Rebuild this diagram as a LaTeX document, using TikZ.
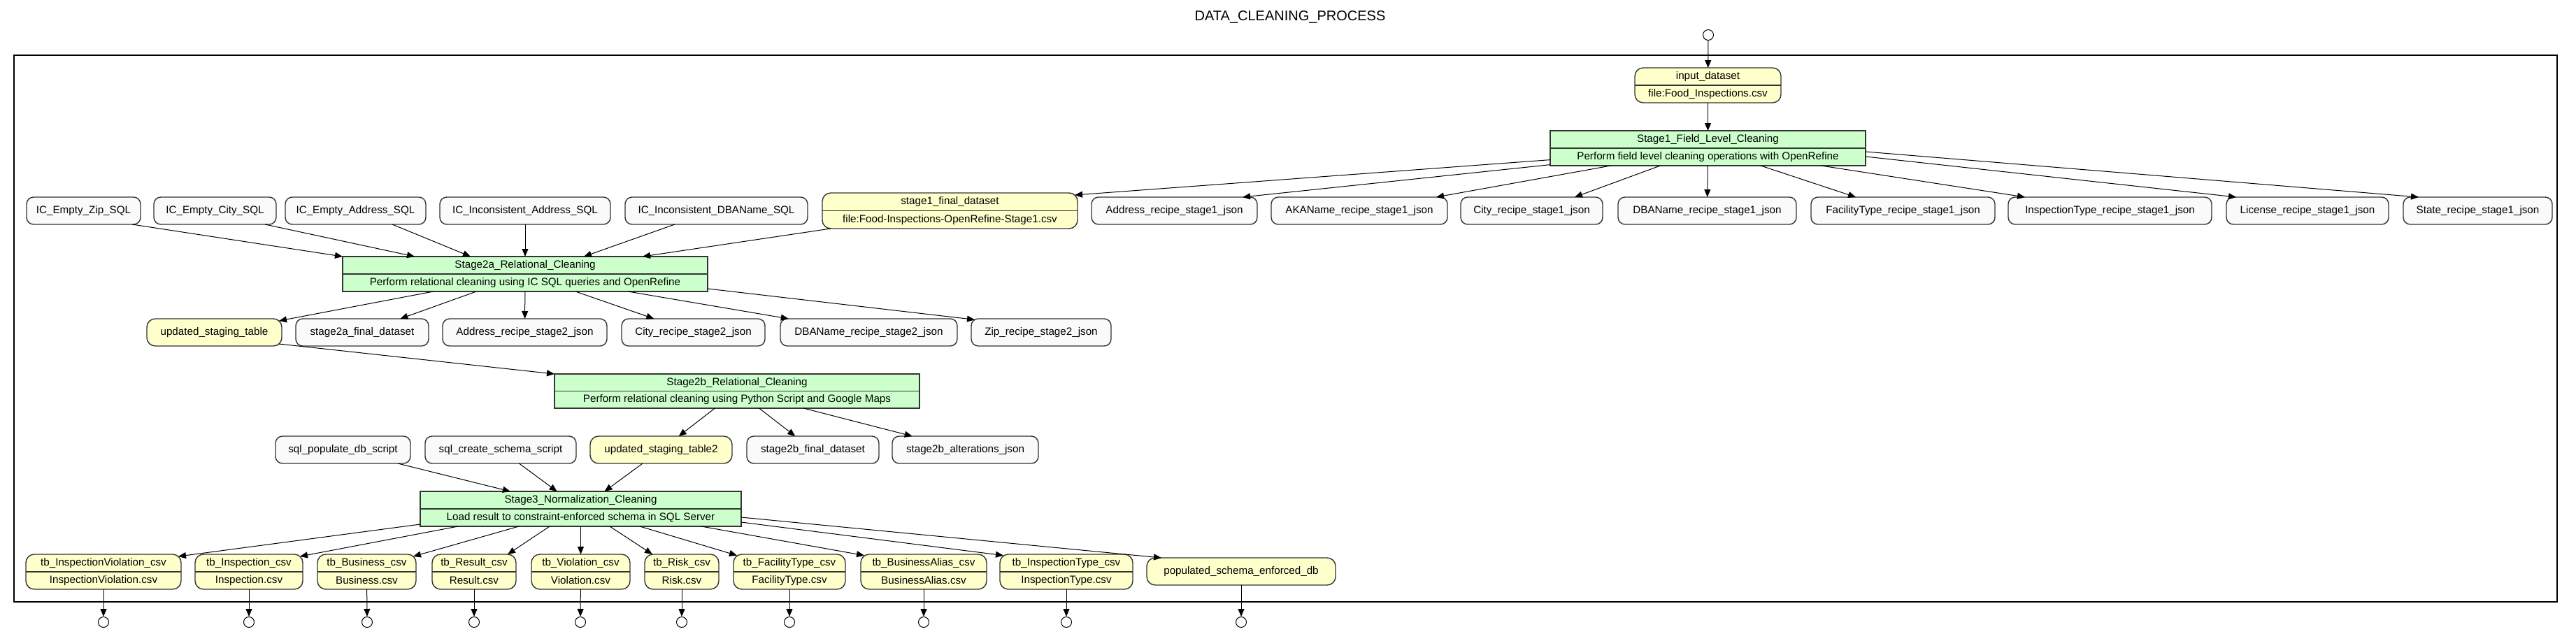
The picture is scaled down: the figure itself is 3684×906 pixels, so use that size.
\documentclass[tikz,border=0pt]{standalone}
\usepackage{fontspec}
\setmainfont{Liberation Sans}
\usetikzlibrary{arrows.meta,calc}
\definecolor{procgreen}{HTML}{CCFFCC}
\definecolor{datayellow}{HTML}{FFFFCC}
\definecolor{plainfill}{HTML}{FAFAFA}
\tikzset{
 nbase/.style={draw=black!80, line width=0.7pt, inner sep=0pt, outer sep=0pt, font=\fontsize{7.6}{9}\selectfont},
 proc/.style={nbase, rectangle, fill=procgreen},
 dat/.style={nbase, rectangle, rounded corners=6pt, fill=datayellow},
 artbox/.style={nbase, rectangle, rounded corners=5pt, fill=plainfill},
 lbl/.style={inner sep=0pt, font=\fontsize{7.6}{9}\selectfont},
 divline/.style={draw=black!80, line width=0.7pt},
 flowarrow/.style={draw=black, line width=0.5pt, -{Triangle[length=5.5pt,width=4.5pt]}},
 portc/.style={circle, draw=black, line width=0.5pt, minimum size=7.5pt, inner sep=0pt, fill=white},
 outerframe/.style={draw=black, line width=1.2pt},
}
\newcommand{\bx}[7]{\node[#2, minimum width={(#5-#3)*0.5pt}, minimum height={(#6-#4)*0.5pt}] (#1) at ({(#3+#5)/2},{(#4+#6)/2}) {#7};}
\newcommand{\bxtwo}[8]{\bx{#1}{#2}{#3}{#4}{#5}{#6}{}
 \draw[divline] (#1.west) -- (#1.east);
 \node[lbl] (#1-t) at ($(#1.center)!0.5!(#1.north)$) {#7};
 \node[lbl] (#1-b) at ($(#1.center)!0.5!(#1.south)$) {#8};}
\begin{document}
\begin{tikzpicture}[x=0.5pt,y=-0.5pt]
\useasboundingbox (0,0) rectangle (3684,906);
\node[font=\fontsize{10}{12}\selectfont, inner sep=0pt] (title) at (1845,24) {DATA\_CLEANING\_PROCESS};
\draw[outerframe] (20,79) rectangle (3657,861);

% stage 1
\bxtwo{inp}{dat}{2338}{97}{2547}{147}{input\_dataset}{file:Food\_Inspections.csv}
\bxtwo{sa}{proc}{2217}{187}{2668}{237}{Stage1\_Field\_Level\_Cleaning}{Perform field level cleaning operations with OpenRefine}
\node[portc] (cin) at (2443,50) {};

% row 2
\bx{iczip}{artbox}{38}{282}{201}{321}{IC\_Empty\_Zip\_SQL}
\bx{iccity}{artbox}{220}{282}{395}{321}{IC\_Empty\_City\_SQL}
\bx{icaddr}{artbox}{408}{282}{609}{321}{IC\_Empty\_Address\_SQL}
\bx{icincaddr}{artbox}{629}{282}{873}{321}{IC\_Inconsistent\_Address\_SQL}
\bx{icincdba}{artbox}{894}{282}{1155}{321}{IC\_Inconsistent\_DBAName\_SQL}
\bxtwo{safin}{dat}{1176}{276}{1541}{327}{stage1\_final\_dataset}{file:Food-Inspections-OpenRefine-Stage1.csv}
\bx{addra}{artbox}{1561}{282}{1798}{321}{Address\_recipe\_stage1\_json}
\bx{akaa}{artbox}{1818}{282}{2070}{321}{AKAName\_recipe\_stage1\_json}
\bx{citya}{artbox}{2089}{282}{2292}{321}{City\_recipe\_stage1\_json}
\bx{dbaa}{artbox}{2314}{282}{2569}{321}{DBAName\_recipe\_stage1\_json}
\bx{faca}{artbox}{2590}{282}{2853}{321}{FacilityType\_recipe\_stage1\_json}
\bx{inspa}{artbox}{2872}{282}{3163}{321}{InspectionType\_recipe\_stage1\_json}
\bx{lica}{artbox}{3184}{282}{3416}{321}{License\_recipe\_stage1\_json}
\bx{statea}{artbox}{3437}{282}{3650}{321}{State\_recipe\_stage1\_json}

% stage 2a
\bxtwo{sb}{proc}{490}{367}{1012}{417}{Stage2a\_Relational\_Cleaning}{Perform relational cleaning using IC SQL queries and OpenRefine}
\bx{ust}{dat}{210}{456}{403}{495}{updated\_staging\_table}
\bx{sbfin}{artbox}{423}{456}{613}{495}{stage2a\_final\_dataset}
\bx{addrb}{artbox}{633}{456}{868}{495}{Address\_recipe\_stage2\_json}
\bx{cityb}{artbox}{889}{456}{1094}{495}{City\_recipe\_stage2\_json}
\bx{dbab}{artbox}{1116}{456}{1369}{495}{DBAName\_recipe\_stage2\_json}
\bx{zipb}{artbox}{1389}{456}{1589}{495}{Zip\_recipe\_stage2\_json}

% stage 2b
\bxtwo{sc}{proc}{793}{535}{1315}{584}{Stage2b\_Relational\_Cleaning}{Perform relational cleaning using Python Script and Google Maps}
\bx{sqlpop}{artbox}{394}{624}{587}{663}{sql\_populate\_db\_script}
\bx{sqlcre}{artbox}{608}{624}{824}{663}{sql\_create\_schema\_script}
\bx{usttwo}{dat}{844}{624}{1047}{663}{updated\_staging\_table2}
\bx{scfin}{artbox}{1068}{624}{1257}{663}{stage2b\_final\_dataset}
\bx{scalt}{artbox}{1276}{624}{1485}{663}{stage2b\_alterations\_json}

% stage 3
\bxtwo{sd}{proc}{601}{703}{1060}{753}{Stage3\_Normalization\_Cleaning}{Load result to constraint-enforced schema in SQL Server}
\bxtwo{tbiv}{dat}{37}{793}{259}{843}{tb\_InspectionViolation\_csv}{InspectionViolation.csv}
\bxtwo{tbi}{dat}{279}{793}{433}{843}{tb\_Inspection\_csv}{Inspection.csv}
\bxtwo{tbb}{dat}{454}{793}{595}{843}{tb\_Business\_csv}{Business.csv}
\bxtwo{tbr}{dat}{618}{793}{738}{843}{tb\_Result\_csv}{Result.csv}
\bxtwo{tbv}{dat}{760}{793}{901}{843}{tb\_Violation\_csv}{Violation.csv}
\bxtwo{tbrisk}{dat}{922}{793}{1028}{843}{tb\_Risk\_csv}{Risk.csv}
\bxtwo{tbft}{dat}{1049}{793}{1209}{843}{tb\_FacilityType\_csv}{FacilityType.csv}
\bxtwo{tbba}{dat}{1231}{793}{1411}{843}{tb\_BusinessAlias\_csv}{BusinessAlias.csv}
\bxtwo{tbit}{dat}{1430}{793}{1620}{843}{tb\_InspectionType\_csv}{InspectionType.csv}
\bx{psed}{dat}{1640}{798}{1910}{837}{populated\_schema\_enforced\_db}

% output ports
\foreach \n/\x in {oa/148,ob/356,oc/525,od/678,oe/830,of/975,og/1129,oh/1321,oi/1525,oj/1775}
  \node[portc] (\n) at (\x,890) {};

% edges: stage 1
\draw[flowarrow] (cin) -- (inp);
\draw[flowarrow] (inp) -- (sa);
\draw[flowarrow] (sa) -- ($(safin.north east)+(-4,3)$);
\draw[flowarrow] (sa) -- ($(addra.north east)+(-21,0)$);
\draw[flowarrow] (sa) -- ($(akaa.north east)+(-16,0)$);
\draw[flowarrow] (sa) -- ($(citya.north east)+(-40,0)$);
\draw[flowarrow] (sa) -- (dbaa);
\draw[flowarrow] (sa) -- ($(faca.north west)+(64,0)$);
\draw[flowarrow] (sa) -- ($(inspa.north west)+(24,0)$);
\draw[flowarrow] ($(sa.east)+(0,12)$) -- ($(lica.north west)+(14,0)$);
\draw[flowarrow] ($(sa.east)+(0,5)$) -- ($(statea.north west)+(22,0)$);

% edges: stage 2a inputs
\draw[flowarrow] ($(iczip.south east)+(-12,0)$) -- (sb.north west);
\draw[flowarrow] ($(iccity.south east)+(-16,0)$) -- ($(sb.north west)+(103,0)$);
\draw[flowarrow] ($(icaddr.south east)+(-48,0)$) -- ($(sb.north west)+(183,0)$);
\draw[flowarrow] (icincaddr) -- (sb);
\draw[flowarrow] ($(icincdba.south west)+(71,0)$) -- ($(sb.north)+(84,0)$);
\draw[flowarrow] ($(safin.south west)+(12,0)$) -- ($(sb.north)+(168,0)$);

% edges: stage 2a outputs
\draw[flowarrow] (sb) -- ($(ust.north east)+(-4,3)$);
\foreach \t in {sbfin,addrb,cityb,dbab}
  \draw[flowarrow] (sb) -- (\t);
\draw[flowarrow] ($(sb.south east)+(0,-4)$) -- ($(zipb.north west)+(5,1.3)$);

% edges: stage 2b
\draw[flowarrow] ($(ust.south east)+(-4,-3)$) -- (sc.north west);
\foreach \t in {usttwo,scfin,scalt}
  \draw[flowarrow] (sc) -- (\t);

% edges: stage 3 inputs
\foreach \s in {sqlpop,sqlcre,usttwo}
  \draw[flowarrow] (\s) -- (sd);

% edges: stage 3 outputs
\draw[flowarrow] ($(sd.south west)+(0,-3)$) -- ($(tbiv.north east)+(-4,3)$);
\draw[flowarrow] ($(sd.south west)+(54,0)$) -- ($(tbi.north east)+(-4,3)$);
\draw[flowarrow] ($(sd.south west)+(141,0)$) -- ($(tbb.north east)+(-4,3)$);
\draw[flowarrow] ($(sd.south west)+(185,0)$) -- ($(tbr.north west)+(108,0)$);
\draw[flowarrow] (sd) -- (tbv);
\draw[flowarrow] ($(sd.south west)+(271,0)$) -- ($(tbrisk.north west)+(11,0)$);
\draw[flowarrow] ($(sd.south west)+(314,0)$) -- ($(tbft.north west)+(5,1.6)$);
\draw[flowarrow] ($(sd.south west)+(402,0)$) -- ($(tbba.north west)+(5,1.6)$);
\draw[flowarrow] ($(sd.south east)+(0,-6)$) -- ($(tbit.north west)+(5,1.6)$);
\draw[flowarrow] ($(sd.south east)+(0,-13)$) -- ($(psed.north west)+(21,0)$);

% edges: to output ports
\foreach \s/\t in {tbiv/oa,tbi/ob,tbb/oc,tbr/od,tbv/oe,tbrisk/of,tbft/og,tbba/oh,tbit/oi,psed/oj}
  \draw[flowarrow] (\s) -- (\t);
\end{tikzpicture}
\end{document}
